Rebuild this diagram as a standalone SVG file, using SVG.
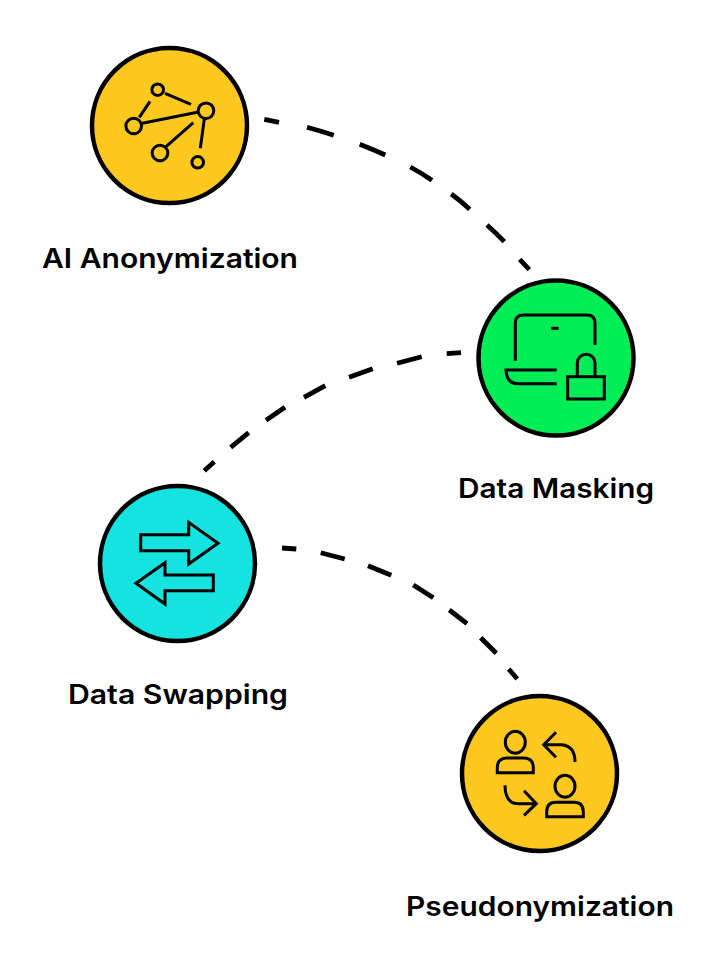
<svg xmlns="http://www.w3.org/2000/svg" width="726" height="960" viewBox="0 0 726 960">
<style>
.bg{stroke:#000;stroke-width:4.500}
.ic{fill:none;stroke:#000;stroke-width:3}
.dash{fill:none;stroke:#000;stroke-width:4.800;stroke-linecap:butt}
.lbl{font-family:"Inter","Liberation Sans",sans-serif;font-size:27px;font-weight:600;fill:#000}
</style>
<rect width="726" height="960" fill="#fff"/>
<g id="connectors">
<path class="dash" d="M264.300,119.300L279,122.300M307,127.300Q320,130.800 333.700,135.300M359.700,144.300Q373,149.500 385.300,155M410.300,167Q421.500,173 432,180.300M451.300,194Q461,201 469.700,209.300M487,225Q496,233 504.300,241.700M519.700,259.300L529.300,269.700"/>
<path class="dash" d="M204.300,470.700L214.300,461.700M230.700,447.300L248.700,432.700M266,420.300L285,407.300M304,397.300L325.300,385.700M349,377.300L372.700,368.700M397,363.300L421.700,356.700M446.700,353.700L461,352.700"/>
<path class="dash" d="M282,548L296.300,549M320.700,552.700L344.700,559M368,565.700L391.300,575.300M413.300,585L433.300,597.700M449.300,610L467,623.700M480.700,637.700L496.300,653.300M508.700,669L517.300,679"/>
</g>
<g id="ai-anonymization">
<circle class="bg" cx="169.500" cy="125.500" r="77.500" fill="#ffc81e"/>
<g class="ic">
<circle cx="157.700" cy="89.700" r="5.800"/><circle cx="206" cy="110.700" r="7.800"/><circle cx="133.700" cy="126" r="7.800"/><circle cx="160" cy="153" r="7.800"/><circle cx="197.700" cy="162.300" r="5.800"/>
<path d="M165,93.300L191,104.300M150,101.300L139.300,117.300M142.300,123.300L197.300,112.300M193.300,122.700L166,146.700M204.300,119L200.300,148.300"/>
</g>
<text class="lbl" x="42" y="268" textLength="256" lengthAdjust="spacingAndGlyphs">AI Anonymization</text>
</g>
<g id="data-masking">
<circle class="bg" cx="556" cy="358" r="77.500" fill="#00ee55"/>
<g class="ic">
<path d="M515.300,360.700V323Q515.300,315 523.300,315H587Q595,315 595,323V345"/>
<path d="M551.300,328.300H558.700"/>
<path d="M556.700,370H506Q506.500,383.700 518,383.700H556.700"/>
<rect x="567.700" y="376.700" width="36.600" height="22.300"/>
<path d="M577.300,376.700V363A8.850,8.850 0 0 1 595,363V376.700"/>
</g>
<text class="lbl" x="458" y="498" textLength="196" lengthAdjust="spacingAndGlyphs">Data Masking</text>
</g>
<g id="data-swapping">
<circle class="bg" cx="177.500" cy="563.500" r="77.500" fill="#14e3df"/>
<g class="ic">
<path d="M140.700,534.700H188.700V522.300L218,543.300L188.700,564V550.700H140.700Z"/>
<path d="M213.300,575H165V562.700L136,583.300L165,604V590.700H213.300Z"/>
</g>
<text class="lbl" x="68" y="704" textLength="220" lengthAdjust="spacingAndGlyphs">Data Swapping</text>
</g>
<g id="pseudonymization">
<circle class="bg" cx="539.500" cy="773.500" r="77.500" fill="#ffc81e"/>
<g class="ic">
<ellipse cx="515.300" cy="742.300" rx="10" ry="11"/>
<path d="M497.300,772.700V768Q497.300,758 507,758H524Q533.300,758 533.300,768V772.700Z"/>
<ellipse cx="565" cy="786.300" rx="10" ry="11"/>
<path d="M546.700,816.700V812Q546.700,802.300 556,802.300H574Q583.300,802.300 583.300,812V816.700Z"/>
<path d="M556,732.300L543.700,744.700L556,757.300M543.700,744.700H561.700Q575,746 575,762"/>
<path d="M505,785.300Q505,803.700 518.300,803.700H536.300M524,790.700L536.300,803.700L524,815.300"/>
</g>
<text class="lbl" x="406" y="916" textLength="268" lengthAdjust="spacingAndGlyphs">Pseudonymization</text>
</g>
</svg>
